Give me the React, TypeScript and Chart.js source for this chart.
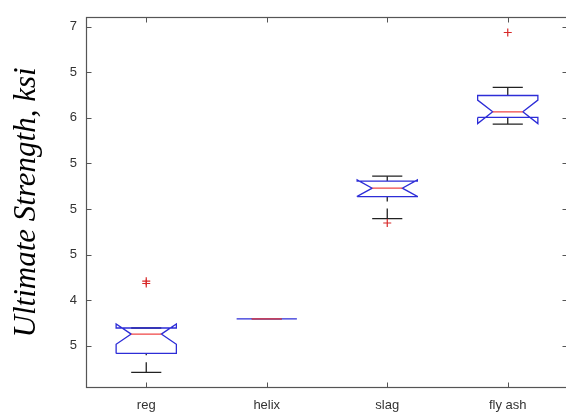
import React, { useEffect, useRef } from "react";
import { Chart, registerables } from "chart.js";

Chart.register(...registerables);

// ---- data ----
const categories = ["reg", "helix", "slag", "fly ash"];
const q1 = [3.417, 3.795, 5.137, 6.005];
const medians = [3.629, 3.795, 5.229, 6.066];
const q3 = [3.696, 3.795, 5.307, 6.245];
const notchLow = [3.518, 3.795, 5.138, 5.937];
const notchHigh = [3.739, 3.795, 5.32, 6.195];
const whiskerLow = [3.21, 3.795, 4.896, 5.932];
const whiskerHigh = [3.696, 3.795, 5.361, 6.334];
const outlierGroup = [0, 0, 2, 3];
const outlierValues = [4.209, 4.184, 4.847, 6.936];
const yTickValues = [3.5, 4, 4.5, 5, 5.5, 6, 6.5, 7];
const yTickLabels = ["5", "4", "5", "5", "5", "6", "5", "7"];
const yTitle = "Ultimate Strength, ksi";

const HALF = 0.25;
const NOTCH = 0.125;
const CAP = 0.125;

function buildDatasets() {
  const outline: any[] = [];
  const medianPts: any[] = [];
  const whiskerPts: any[] = [];
  const capPts: any[] = [];
  categories.forEach((_, i) => {
    const c = i + 1;
    outline.push(
      { x: c - HALF, y: q1[i] },
      { x: c - HALF, y: notchLow[i] },
      { x: c - NOTCH, y: medians[i] },
      { x: c - HALF, y: notchHigh[i] },
      { x: c - HALF, y: q3[i] },
      { x: c + HALF, y: q3[i] },
      { x: c + HALF, y: notchHigh[i] },
      { x: c + NOTCH, y: medians[i] },
      { x: c + HALF, y: notchLow[i] },
      { x: c + HALF, y: q1[i] },
      { x: c - HALF, y: q1[i] },
      { x: c, y: null }
    );
    medianPts.push(
      { x: c - NOTCH, y: medians[i] },
      { x: c + NOTCH, y: medians[i] },
      { x: c, y: null }
    );
    whiskerPts.push(
      { x: c, y: whiskerHigh[i] },
      { x: c, y: q3[i] },
      { x: c, y: null },
      { x: c, y: whiskerLow[i] },
      { x: c, y: q1[i] },
      { x: c, y: null }
    );
    capPts.push(
      { x: c - CAP, y: whiskerHigh[i] },
      { x: c + CAP, y: whiskerHigh[i] },
      { x: c, y: null },
      { x: c - CAP, y: whiskerLow[i] },
      { x: c + CAP, y: whiskerLow[i] },
      { x: c, y: null }
    );
  });
  const outliers = outlierValues.map((v, k) => ({ x: outlierGroup[k] + 1, y: v }));
  const lineBase = {
    showLine: true,
    pointRadius: 0,
    pointHoverRadius: 0,
    borderWidth: 1.3,
    spanGaps: false,
    tension: 0,
  };
  return [
    {
      label: "outliers",
      data: outliers,
      showLine: false,
      pointStyle: "cross",
      pointRadius: 4,
      borderColor: "rgb(215,40,40)",
      backgroundColor: "rgb(215,40,40)",
      borderWidth: 1.2,
      order: 0,
    },
    { ...lineBase, label: "median", data: medianPts, borderColor: "rgb(240,70,70)", order: 1 },
    { ...lineBase, label: "box", data: outline, borderColor: "rgb(45,45,215)", order: 2 },
    { ...lineBase, label: "caps", data: capPts, borderColor: "#222", order: 3 },
    {
      ...lineBase,
      label: "whiskers",
      data: whiskerPts,
      borderColor: "#222",
      borderDash: [10, 7],
      order: 4,
    },
  ];
}

const framePlugin = {
  id: "frame",
  beforeDatasetsDraw(chart: any) {
    const { ctx, chartArea: a, scales } = chart;
    ctx.save();
    ctx.strokeStyle = "#555";
    ctx.lineWidth = 1.2;
    const L = Math.round(a.left) + 0.5;
    const R = Math.round(a.right) - 0.5;
    const T = Math.round(a.top) + 0.5;
    const B = Math.round(a.bottom) - 0.5;
    ctx.strokeRect(L, T, R - L, B - T);
    const len = 5;
    ctx.lineWidth = 1;
    ctx.beginPath();
    yTickValues.forEach((v) => {
      const y = Math.round(scales.y.getPixelForValue(v)) + 0.5;
      ctx.moveTo(L, y);
      ctx.lineTo(L + len, y);
      ctx.moveTo(R, y);
      ctx.lineTo(R - len, y);
    });
    categories.forEach((_, i) => {
      const x = Math.round(scales.x.getPixelForValue(i + 1)) + 0.5;
      ctx.moveTo(x, B);
      ctx.lineTo(x, B - len);
      ctx.moveTo(x, T);
      ctx.lineTo(x, T + len);
    });
    ctx.stroke();
    ctx.restore();
  },
};

export default function App() {
  const ref = useRef<HTMLCanvasElement | null>(null);
  useEffect(() => {
    if (!ref.current) return;
    const chart = new Chart(ref.current, {
      type: "scatter",
      data: { datasets: buildDatasets() as any },
      options: {
        animation: false,
        responsive: false,
        devicePixelRatio: 1,
        layout: { padding: { left: 0, top: 9, right: 12, bottom: 0 } },
        plugins: { legend: { display: false }, tooltip: { enabled: false } },
        scales: {
          x: {
            type: "linear",
            position: "bottom",
            min: 0.5,
            max: 4.5,
            afterBuildTicks: (scale: any) => {
              scale.ticks = categories.map((_, i) => ({ value: i + 1 }));
            },
            afterFit: (scale: any) => {
              scale.height = 29;
            },
            grid: { display: false, drawTicks: false },
            border: { display: false },
            ticks: {
              autoSkip: false,
              maxRotation: 0,
              padding: 10,
              color: "#333",
              font: { family: "Liberation Sans", size: 13 },
              callback: (v: any) => categories[Math.round(Number(v)) - 1] ?? "",
            },
          },
          y: {
            type: "linear",
            position: "left",
            min: 3.038,
            max: 7.108,
            afterBuildTicks: (scale: any) => {
              scale.ticks = yTickValues.map((v) => ({ value: v }));
            },
            afterFit: (scale: any) => {
              scale.width = 86;
            },
            grid: { display: false, drawTicks: false },
            border: { display: false },
            title: {
              display: true,
              text: yTitle,
              color: "#000",
              padding: { top: 8, bottom: 0 },
              font: { family: "Liberation Serif", size: 31, style: "italic" },
            },
            ticks: {
              autoSkip: false,
              padding: 9,
              color: "#333",
              font: { family: "Liberation Sans", size: 13 },
              callback: (v: any) => {
                const idx = yTickValues.findIndex((t) => Math.abs(t - Number(v)) < 1e-6);
                return idx >= 0 ? yTickLabels[idx] : "";
              },
            },
          },
        },
      },
      plugins: [framePlugin],
    });
    return () => chart.destroy();
  }, []);
  return (
    <div
      style={{
        position: "fixed",
        left: 0,
        top: 0,
        width: 566,
        height: 417,
        overflow: "hidden",
        background: "#fff",
      }}
    >
      <canvas ref={ref} width={580} height={417} style={{ display: "block", width: 580, height: 417 }} />
    </div>
  );
}
